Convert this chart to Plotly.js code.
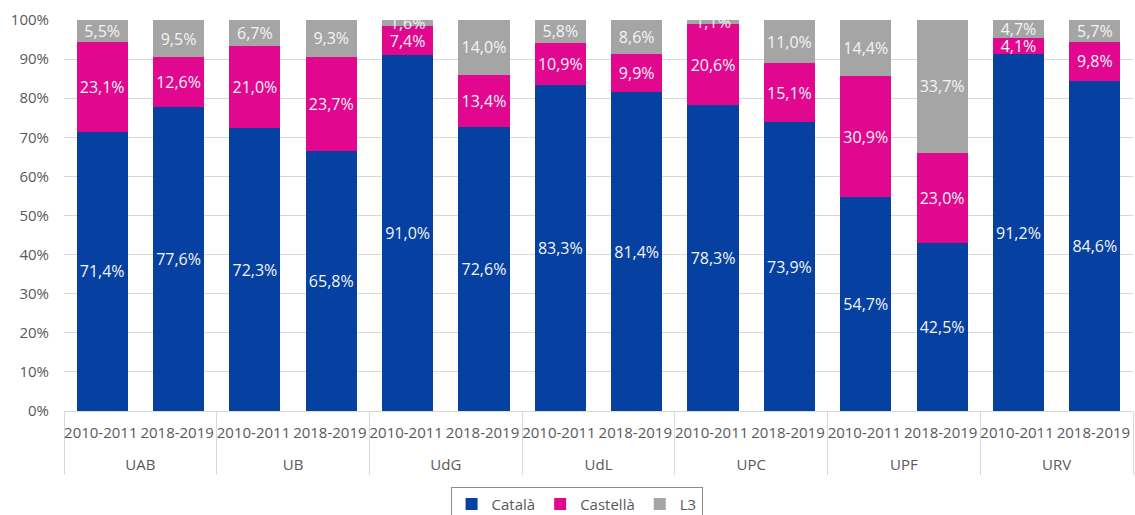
<!DOCTYPE html>
<html>
<head>
<meta charset="utf-8">
<script src="https://cdn.plot.ly/plotly-3.0.1.min.js"></script>
<style>html,body{margin:0;padding:0;background:#fff}#chart{width:1135px;height:515px}</style>
</head>
<body>
<div id="chart"></div>
<script>
const universities = ["UAB","UB","UdG","UdL","UPC","UPF","URV"];
const years = ["2010-2011","2018-2019"];
const seriesNames = ["Català","Castellà","L3"];
const catala   = [71.4, 77.6, 72.3, 65.8, 91.0, 72.6, 83.3, 81.4, 78.3, 73.9, 54.7, 42.5, 91.2, 84.6];
const castella = [23.1, 12.6, 21.0, 23.7,  7.4, 13.4, 10.9,  9.9, 20.6, 15.1, 30.9, 23.0,  4.1,  9.8];
const l3       = [ 5.5,  9.5,  6.7,  9.3,  1.6, 14.0,  5.8,  8.6,  1.1, 11.0, 14.4, 33.7,  4.7,  5.7];
const colors = ["#0641A1","#E2078F","#A5A5A5"];

// invisible tall hair-space to give the first label row extra height (spacing between rows)
const pad = "<span style='font-size:28px'>\u200A</span>";
const groupAxis = [], yearAxis = [];
universities.forEach(u => years.forEach(y => { groupAxis.push(u); yearAxis.push(y + pad); }));
const fmt = v => v.toFixed(1).replace('.', ',') + '%';

const font = "Open Sans, Noto Sans, sans-serif";
const traces = [catala, castella, l3].map((vals, i) => ({
  type: 'bar',
  name: seriesNames[i],
  x: [groupAxis, yearAxis],
  y: vals,
  text: vals.map(fmt),
  textposition: 'inside',
  insidetextanchor: 'middle',
  constraintext: 'none',
  textangle: 0,
  textfont: {family: font, size: 16, color: '#F4F4F4'},
  marker: {color: colors[i]},
  hoverinfo: 'skip'
}));

const layout = {
  width: 1135, height: 515,
  margin: {l: 64, r: 2, t: 20, b: 104, autoexpand: false},
  barmode: 'stack',
  barnorm: 'percent',
  bargap: 0.33,
  paper_bgcolor: '#fff', plot_bgcolor: '#fff',
  font: {family: font, color: '#595959', size: 15},
  xaxis: {
    type: 'multicategory',
    automargin: false,
    tickangle: 0,
    ticklabelstandoff: 8,
    showline: true, linecolor: '#D9D9D9', linewidth: 1,
    showdividers: true, dividercolor: '#D9D9D9', dividerwidth: 1,
    tickfont: {family: font, size: 15, color: '#595959'},
    ticks: '', fixedrange: true
  },
  yaxis: {
    range: [0, 100], dtick: 10, ticksuffix: '%',
    automargin: false,
    showgrid: true, gridcolor: '#D9D9D9', gridwidth: 1,
    zeroline: false, showline: false,
    tickfont: {family: font, size: 15, color: '#595959'},
    ticklabelstandoff: 14, fixedrange: true
  },
  showlegend: true,
  legend: {
    orientation: 'h', x: 0.508, xref: 'container', xanchor: 'center',
    y: 0.055, yref: 'container', yanchor: 'top',
    bordercolor: '#8C8C8C', borderwidth: 1,
    font: {family: font, size: 15, color: '#595959'},
    itemwidth: 30, traceorder: 'normal'
  }
};

Plotly.newPlot('chart', traces, layout, {displayModeBar: false, staticPlot: true});
</script>
</body>
</html>
